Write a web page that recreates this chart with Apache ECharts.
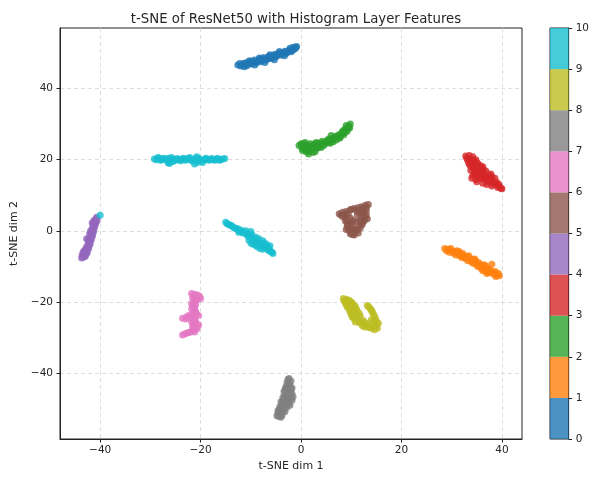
<!DOCTYPE html>
<html>
<head>
<meta charset="utf-8">
<script src="https://cdn.jsdelivr.net/npm/echarts@6/dist/echarts.min.js"></script>
<style>html,body{margin:0;padding:0;background:#fff}#c{width:592px;height:477px}</style>
</head>
<body>
<div id="c"></div>
<script>
// ---- data (t-SNE dim 1, t-SNE dim 2) per class label ----
const class0 = [[-12.6,46.6],[-12.0,46.3],[-11.5,47.0],[-11.0,46.7],[-10.5,47.3],[-10.0,46.9],[-9.6,47.6],[-9.0,47.2],[-8.5,48.0],[-8.0,47.5],[-7.6,48.3],[-7.0,48.0],[-6.5,48.8],[-6.0,48.4],[-5.5,49.3],[-5.0,48.9],[-4.6,49.7],[-4.0,49.4],[-3.5,50.2],[-3.0,49.8],[-2.5,50.6],[-2.0,50.3],[-1.5,51.0],[-1.0,51.6],[-7.2,47.3],[-9.2,46.6],[-11.3,46.1],[-5.3,48.1],[-3.3,49.2],[-8.3,48.6],[-6.2,49.5],[-4.3,50.4],[-2.2,51.3],[-10.3,47.8],
  [-12.2,47.0],[-11.8,46.5],[-11.0,47.2],[-10.8,46.4],[-10.0,47.5],[-9.8,47.0],[-9.3,48.0],[-8.8,47.4],[-8.2,48.3],[-7.8,47.8],[-7.4,48.7],[-6.8,48.2],[-6.3,49.1],[-5.8,48.6],[-5.2,49.6],[-4.8,49.2],[-4.4,50.0],[-3.8,49.6],[-3.2,50.5],[-2.8,50.1],[-2.2,50.8],[-1.8,50.6],[-1.2,51.2],[-0.9,51.8],[-1.6,51.6]];
const class1 = [[28.6,-5.0],[29.3,-5.2],[30.0,-5.6],[29.5,-6.0],[30.6,-5.9],[31.2,-6.3],[30.8,-6.8],[31.8,-6.6],[32.4,-7.0],[32.0,-7.5],[33.0,-7.3],[33.6,-7.8],[33.2,-8.4],[34.2,-8.0],[34.8,-8.5],[34.4,-9.2],[35.4,-9.0],[35.2,-10.0],[35.9,-10.6],[36.4,-9.5],[36.6,-11.0],[37.2,-11.6],[37.8,-11.8],[38.4,-12.2],[39.0,-12.4],[39.5,-12.6],[38.0,-9.4],[36.8,-9.8],[37.6,-10.8],[38.7,-11.4],[31.5,-5.8],[34.0,-8.8],
  [29.0,-5.6],[29.8,-5.0],[30.3,-6.2],[31.0,-5.6],[31.6,-7.0],[32.2,-6.4],[32.7,-7.8],[33.4,-7.0],[33.9,-8.4],[34.6,-7.9],[35.0,-9.5],[35.6,-9.6],[36.0,-9.8],[36.2,-11.2],[36.9,-10.6],[37.4,-11.0],[38.2,-11.6],[38.8,-12.8],[39.3,-12.0],[37.0,-12.0]];
const class2 = [[-0.4,24.0],[0.2,23.2],[0.5,24.4],[1.0,22.2],[1.2,23.5],[1.8,24.5],[2.0,22.8],[2.5,23.8],[3.0,24.8],[3.2,23.2],[3.8,24.2],[4.2,25.2],[4.5,24.0],[5.0,25.0],[5.5,25.8],[5.8,24.6],[6.3,25.6],[6.8,26.6],[7.0,25.5],[7.5,27.0],[7.8,26.2],[8.2,27.8],[8.5,27.0],[8.8,28.6],[9.2,28.0],[9.5,29.4],[9.8,30.0],[9.0,29.6],[1.5,21.6],[2.8,22.3],[4.0,23.4],[6.0,26.8],[0.8,24.8],
  [0.0,24.5],[0.4,23.6],[0.9,23.0],[1.4,24.0],[1.6,22.4],[2.2,23.3],[2.6,24.4],[3.4,24.6],[3.6,23.6],[4.0,24.6],[4.8,24.5],[5.2,25.4],[5.6,24.9],[6.0,25.8],[6.6,26.0],[7.2,26.4],[7.6,26.0],[8.0,27.2],[8.4,28.2],[8.7,27.6],[9.4,28.8],[9.7,29.0],[1.2,22.8],[2.4,22.0],[3.0,23.6],[6.4,25.0],[0.3,22.6]];
const class3 = [[32.8,21.0],[33.5,21.2],[34.2,20.8],[33.2,19.8],[34.0,19.5],[34.8,20.0],[33.6,18.5],[34.5,18.2],[35.3,18.8],[33.8,17.0],[34.7,16.8],[35.5,17.4],[36.2,18.0],[34.2,15.6],[35.2,15.4],[36.0,16.2],[36.8,16.8],[35.8,14.8],[36.7,15.0],[37.5,15.6],[37.2,13.8],[38.0,14.4],[38.6,14.8],[38.2,13.2],[39.0,13.6],[39.5,12.4],[40.0,11.8],[39.2,12.2],[37.0,14.5],[35.0,16.0],[36.3,17.2],
  [33.0,20.4],[33.8,20.2],[34.4,19.8],[33.4,19.0],[34.2,18.8],[35.0,19.2],[34.0,18.0],[35.0,17.8],[35.8,18.2],[34.4,17.4],[35.2,16.6],[36.0,17.0],[36.6,16.0],[34.6,15.8],[35.5,15.0],[36.4,14.6],[37.2,15.0],[38.0,15.2],[37.6,14.0],[38.4,13.8],[38.8,13.0],[39.4,13.0],[39.8,12.0],[36.2,15.6],[37.8,16.0],[34.0,14.8],[35.0,13.8],[36.2,13.4],[37.0,13.0],[38.0,12.6],[34.8,14.4]];
const class4 = [[-40.8,3.4],[-41.2,3.0],[-40.9,2.2],[-41.4,1.8],[-41.1,1.0],[-41.6,0.6],[-41.3,-0.2],[-41.8,-0.6],[-41.5,-1.4],[-42.0,-1.8],[-41.8,-2.6],[-42.3,-3.0],[-42.0,-3.8],[-42.6,-4.2],[-42.3,-5.0],[-42.9,-5.4],[-42.6,-6.2],[-43.3,-6.4],[-43.0,-7.2],[-43.7,-7.6],[-43.6,-6.8],[-43.2,-5.6],[-42.7,-2.2],[-41.9,0.0],[-40.6,2.8],
  [-40.7,3.8],[-41.0,2.6],[-41.2,1.4],[-41.4,0.2],[-41.6,-1.0],[-41.8,-2.2],[-42.1,-3.4],[-42.3,-4.6],[-42.6,-5.8],[-42.9,-6.8],[-43.4,-7.4],[-41.6,2.2],[-41.0,1.8],[-42.1,-0.8],[-42.4,-2.6],[-42.8,-4.8],[-43.4,-6.0],[-41.3,2.4]];
const class5 = [[7.6,4.8],[8.3,5.2],[9.0,5.4],[9.8,5.9],[10.5,6.3],[11.3,6.5],[12.0,6.8],[12.8,7.2],[13.4,7.4],[8.3,4.0],[9.0,3.4],[9.5,2.2],[9.2,1.2],[9.5,0.2],[9.8,-0.8],[10.6,-1.2],[11.4,-0.6],[10.8,0.5],[11.8,0.8],[12.2,1.8],[12.6,2.8],[13.2,3.4],[12.0,3.8],[11.0,2.6],[10.2,1.5],[12.5,5.0],[11.5,5.2],[13.0,5.8],[10.0,-0.2],
  [8.0,4.4],[8.8,4.6],[9.4,4.8],[10.0,6.0],[11.0,5.8],[11.8,6.0],[12.4,6.4],[13.0,6.6],[8.8,2.8],[9.2,2.0],[9.0,0.4],[10.2,0.2],[10.6,-0.4],[11.2,0.2],[11.6,1.4],[12.2,2.4],[12.8,3.8],[12.4,4.4],[11.8,2.8],[10.4,3.0],[10.0,2.2],[9.8,3.6],[13.0,4.6],[11.2,4.6],[10.2,-1.0]];
const class6 = [[-21.8,-17.6],[-21.2,-17.8],[-20.2,-18.4],[-20.0,-19.0],[-21.6,-18.8],[-21.0,-19.6],[-21.8,-20.4],[-21.2,-21.2],[-21.8,-22.0],[-21.0,-22.6],[-20.4,-23.8],[-21.6,-23.4],[-22.4,-23.8],[-23.6,-24.6],[-22.8,-24.2],[-21.2,-24.8],[-21.8,-25.6],[-20.4,-26.4],[-21.0,-26.0],[-21.6,-27.0],[-20.8,-27.6],[-21.2,-28.4],[-22.0,-28.4],[-22.8,-28.8],[-23.6,-29.3],[-21.4,-21.6],
  [-21.4,-18.2],[-20.6,-18.0],[-20.6,-19.4],[-21.4,-20.0],[-21.0,-20.8],[-21.6,-21.0],[-21.2,-22.2],[-21.4,-23.0],[-20.8,-23.4],[-22.0,-24.4],[-23.0,-24.8],[-21.4,-25.2],[-21.0,-25.4],[-21.4,-26.4],[-20.6,-27.0],[-21.4,-27.8],[-22.4,-28.6],[-23.2,-29.0],[-21.6,-28.0]];
const class7 = [[-2.4,-41.5],[-2.0,-42.2],[-2.8,-42.6],[-2.2,-43.4],[-3.0,-43.8],[-2.0,-44.5],[-2.6,-45.0],[-3.4,-45.2],[-1.8,-45.8],[-2.8,-46.4],[-3.6,-46.8],[-2.0,-47.0],[-3.0,-47.6],[-4.0,-48.0],[-2.4,-48.4],[-3.4,-48.8],[-4.2,-49.4],[-2.8,-49.6],[-3.8,-50.2],[-4.6,-50.6],[-3.2,-50.8],[-4.2,-51.4],[-4.8,-52.0],[-4.0,-52.4],[-3.0,-44.2],[-1.6,-46.6],[-2.2,-49.0],
  [-2.6,-41.8],[-2.4,-42.8],[-2.6,-43.8],[-2.4,-44.0],[-3.2,-44.6],[-2.2,-45.4],[-3.0,-45.8],[-2.4,-46.2],[-3.2,-46.8],[-2.6,-47.2],[-3.6,-47.6],[-2.8,-48.2],[-3.8,-48.6],[-3.0,-49.0],[-4.0,-49.8],[-3.4,-50.0],[-4.4,-50.2],[-3.6,-51.0],[-4.6,-51.4],[-4.4,-52.2],[-3.8,-51.8],[-1.8,-44.2],[-1.8,-47.6]];
const class8 = [[8.4,-19.0],[9.0,-19.2],[9.6,-19.5],[8.8,-20.2],[9.5,-20.6],[10.2,-20.2],[9.2,-21.4],[10.0,-21.8],[10.8,-21.2],[9.8,-22.8],[10.5,-23.2],[11.2,-22.5],[10.2,-24.2],[11.0,-24.6],[11.8,-24.0],[10.8,-25.6],[11.6,-25.8],[12.4,-25.2],[12.2,-26.6],[13.0,-26.2],[13.6,-26.8],[14.4,-27.0],[15.0,-26.4],[14.6,-27.8],[13.2,-21.0],[13.8,-21.8],[14.2,-22.8],[14.6,-24.0],[14.0,-25.0],[15.4,-26.0],
  [8.6,-19.6],[9.3,-19.8],[9.9,-20.0],[9.0,-20.8],[9.8,-21.2],[10.4,-21.0],[9.6,-22.2],[10.4,-22.4],[11.0,-22.0],[10.0,-23.6],[10.8,-23.8],[11.6,-23.2],[10.6,-24.8],[11.4,-25.2],[12.0,-25.6],[12.8,-25.8],[12.6,-27.0],[13.4,-27.2],[14.0,-27.4],[14.8,-26.8],[15.2,-27.4],[13.5,-21.4],[14.0,-22.3],[14.4,-23.4],[14.8,-24.6],[14.3,-25.6],[15.0,-25.4]];
const class9 = [[-29.2,20.2],[-28.5,20.6],[-28.0,19.8],[-27.4,20.4],[-26.8,20.0],[-26.2,18.9],[-25.8,20.6],[-25.2,19.8],[-24.6,20.3],[-24.0,19.7],[-23.4,20.4],[-22.8,20.0],[-22.2,20.6],[-21.6,19.6],[-21.2,18.8],[-20.8,20.8],[-20.2,20.0],[-19.6,19.2],[-19.0,20.4],[-18.4,19.8],[-17.8,20.3],[-17.2,19.8],[-16.6,20.4],[-16.0,20.0],[-15.2,20.3],[-20.5,19.3],[-25.5,19.5],
  [-28.8,20.0],[-28.2,20.4],[-27.7,20.0],[-27.0,20.2],[-26.4,20.4],[-26.0,19.4],[-25.4,20.2],[-24.9,19.9],[-24.3,20.0],[-23.7,20.2],[-23.1,19.8],[-22.5,20.3],[-22.0,19.9],[-21.4,20.2],[-20.9,19.6],[-20.4,20.5],[-19.9,19.8],[-19.3,20.0],[-18.7,20.2],[-18.1,20.0],[-17.5,20.0],[-16.9,20.2],[-16.3,19.8],[-15.6,20.2],[-26.5,19.2],[-40.0,4.4]];
const class10 = [[-15.0,2.4],[-14.4,1.8],[-13.8,1.4],[-13.2,0.8],[-12.6,0.6],[-12.0,0.2],[-11.6,-0.6],[-11.0,0.0],[-10.6,-0.8],[-10.2,-1.8],[-9.8,-1.0],[-9.4,-2.6],[-9.0,-1.8],[-8.6,-3.2],[-8.4,-2.2],[-8.0,-4.0],[-7.6,-2.8],[-7.4,-4.6],[-7.0,-3.6],[-6.6,-5.2],[-6.2,-4.2],[-6.0,-5.8],[-5.6,-6.4],[-9.2,-3.6],[-8.2,-5.0],[-12.4,-0.4],[-10.0,-0.2],
  [-14.7,2.0],[-14.1,1.6],[-13.5,1.0],[-12.9,0.6],[-12.3,0.0],[-11.8,-0.2],[-11.3,-0.4],[-10.8,-1.2],[-10.4,-1.2],[-9.6,-2.0],[-9.2,-2.8],[-8.8,-2.6],[-8.4,-3.8],[-7.8,-3.4],[-7.2,-4.0],[-6.8,-4.4],[-6.4,-4.8],[-5.8,-6.0],[-8.8,-4.4],[-7.6,-5.2],[-6.4,-5.6],[-9.0,-4.0],[-10.0,-3.4],[-9.6,-3.8],[-10.4,-2.6]];
const classData = [class0,class1,class2,class3,class4,class5,class6,class7,class8,class9,class10];
const classLabels = [0,1,2,3,4,5,6,7,8,9,10];
const colorbarBounds = [0,1,2,3,4,5,6,7,8,9,10];
const colorbarTicks = [0,1,2,3,4,5,6,7,8,9,10];
const xTicks = [-40,-20,0,20,40];
const yTicks = [-40,-20,0,20,40];

// ---- styling ----
const tab10 = ['#1f77b4','#ff7f0e','#2ca02c','#d62728','#9467bd','#8c564b','#e377c2','#7f7f7f','#bcbd22','#17becf'];
const colorFor = v => tab10[Math.min(Math.floor(v), 9)];
const FONT = 'DejaVu Sans';
const TXT = '#262626';

const chart = echarts.init(document.getElementById('c'), null, {renderer:'canvas'});

const scatterSeries = classData.map((pts, i) => ({
  type: 'scatter', xAxisIndex: 0, yAxisIndex: 0,
  data: pts, symbolSize: 7,
  itemStyle: { color: colorFor(classLabels[i]), opacity: 0.8 },
  silent: true, animation: false
}));

const cbSeries = colorbarBounds.slice(0, -1).map((b, i) => ({
  type: 'bar', xAxisIndex: 1, yAxisIndex: 1, stack: 'cb',
  data: [colorbarBounds[i+1] - b], barWidth: '100%',
  itemStyle: { color: colorFor(b), opacity: 0.8 },
  silent: true, animation: false
}));

const tickLabel = { fontFamily: FONT, fontSize: 10.5, color: TXT };

chart.setOption({
  animation: false,
  backgroundColor: '#fff',
  title: {
    text: 't-SNE of ResNet50 with Histogram Layer Features',
    left: 291, top: 8, textAlign: 'center',
    textStyle: { fontFamily: FONT, fontSize: 13.3, fontWeight: 'normal', color: TXT }
  },
  grid: [
    { left: 60, top: 28, width: 462, height: 411, show: true, borderColor: '#222', borderWidth: 1, backgroundColor: 'transparent' },
    { left: 550, top: 28, width: 21, height: 411, show: true, borderColor: '#222', borderWidth: 1, backgroundColor: 'transparent' }
  ],
  xAxis: [
    {
      type: 'value', gridIndex: 0, min: -48, max: 44,
      name: 't-SNE dim 1', nameLocation: 'middle', nameGap: 22,
      nameTextStyle: { fontFamily: FONT, fontSize: 11, color: TXT },
      axisLine: { show: true, onZero: false, lineStyle: { color: '#222', width: 1 } },
      axisTick: { show: true, length: 3.5, lineStyle: { color: '#222' }, customValues: xTicks },
      axisLabel: Object.assign({ margin: 6, customValues: xTicks, formatter: v => String(v).replace('-', '\u2212') }, tickLabel),
      splitLine: { show: true, lineStyle: { color: '#d6d6d6', type: [4, 3], width: 0.8 } }
    },
    {
      type: 'category', gridIndex: 1, data: ['cb'],
      axisLine: { show: false }, axisTick: { show: false }, axisLabel: { show: false }, splitLine: { show: false }
    }
  ],
  yAxis: [
    {
      type: 'value', gridIndex: 0, min: -58.5, max: 57,
      name: 't-SNE dim 2', nameLocation: 'middle', nameGap: 35, nameRotate: 90,
      nameTextStyle: { fontFamily: FONT, fontSize: 11, color: TXT },
      axisLine: { show: true, onZero: false, lineStyle: { color: '#222', width: 1 } },
      axisTick: { show: true, length: 3.5, lineStyle: { color: '#222' }, customValues: yTicks },
      axisLabel: Object.assign({ margin: 7, customValues: yTicks, formatter: v => String(v).replace('-', '\u2212') }, tickLabel),
      splitLine: { show: true, lineStyle: { color: '#d6d6d6', type: [4, 3], width: 0.8 } }
    },
    {
      type: 'value', gridIndex: 1, min: 0, max: 10, interval: 1, position: 'right',
      axisLine: { show: true, lineStyle: { color: '#222', width: 1 } },
      axisTick: { show: true, length: 3.5, lineStyle: { color: '#222' }, customValues: colorbarTicks },
      axisLabel: Object.assign({ margin: 7, customValues: colorbarTicks }, tickLabel),
      splitLine: { show: false }
    }
  ],
  series: scatterSeries.concat(cbSeries)
});
</script>
</body>
</html>
